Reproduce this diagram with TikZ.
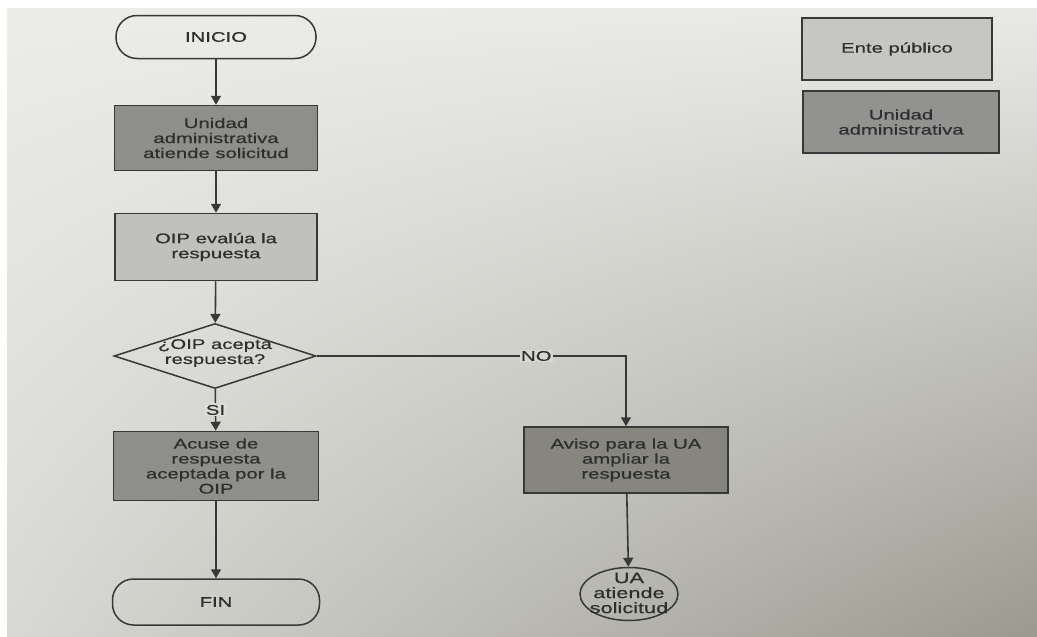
\documentclass[tikz,border=0pt]{standalone}
\usepackage{fontspec}
\setmainfont{Liberation Sans}[FakeStretch=1.45,FakeBold=0.6]
\usetikzlibrary{shapes.geometric,arrows.meta,shadings}
\definecolor{txt}{HTML}{2E2E2E}
\definecolor{ln}{HTML}{383838}
\definecolor{lightbox}{HTML}{C0C0BC}
\definecolor{darkbox}{HTML}{8E8E8A}
\definecolor{darkboxb}{HTML}{86867F}
\definecolor{leglight}{HTML}{C6C6C2}
\definecolor{legdark}{HTML}{929290}
\definecolor{bgsi}{HTML}{DCDCD8}
\definecolor{bgno}{HTML}{D8D8D3}
\definecolor{bgul}{HTML}{ECECE9}
\definecolor{bgur}{HTML}{E9E9E6}
\definecolor{bgll}{HTML}{D8D8D4}
\definecolor{bglr}{HTML}{9A9A90}
\tikzset{
  base/.style={draw=ln, line width=1.5pt, text=txt, align=center, inner sep=0pt,
    font=\fontsize{14}{15}\selectfont},
  term/.style={base, rectangle, rounded corners=21pt},
  procbox/.style={base, rectangle},
  conn/.style={draw=ln, line width=1.6pt, -{Triangle[width=10pt,length=9pt]}},
  lbl/.style={fill=#1, text=txt, inner sep=1.5pt, font=\fontsize{14}{15}\selectfont}
}
\begin{document}
\begin{tikzpicture}[x=1pt,y=-1pt]
\useasboundingbox (0,0) rectangle (1037,637);
\fill[white] (0,0) rectangle (1037,637);
\shade[upper left=bgul, upper right=bgur, lower left=bgll, lower right=bglr]
  (7,8) rectangle (1037,636);

% nodes
\node[term, minimum width=200pt, minimum height=43pt] (inicio) at (216,37) {INICIO};
\node[procbox, fill=darkbox, minimum width=203pt, minimum height=65pt] (b1) at (216,138)
  {Unidad\\administrativa\\atiende solicitud};
\node[procbox, fill=lightbox, minimum width=202pt, minimum height=67pt] (b2) at (216,247)
  {OIP evalúa la\\respuesta};
\node[base, diamond, minimum width=202pt, minimum height=65pt, aspect=3.1] (d) at (215,356) {};
\node[text=txt, align=center, inner sep=0pt, font=\fontsize{14}{15}\selectfont] (dtext) at (215,353)
  {¿OIP acepta\\respuesta?};
\node[procbox, fill=darkbox, minimum width=205pt, minimum height=69pt] (b3) at (216,466)
  {Acuse de\\respuesta\\aceptada por la\\OIP};
\node[term, minimum width=207pt, minimum height=46pt] (fin) at (216,602) {FIN};
\node[procbox, fill=darkboxb, minimum width=204pt, minimum height=66pt] (b4) at (626,460)
  {Aviso para la UA\\ampliar la\\respuesta};
\node[base, ellipse, minimum width=98pt, minimum height=53pt] (c) at (629,594) {};
\node[text=txt, align=center, inner sep=0pt, font=\fontsize{15}{15}\selectfont] (ctext) at (629,593)
  {UA\\atiende\\solicitud};

% legend
\node[procbox, fill=leglight, minimum width=190pt, minimum height=62pt] (l1) at (897,49) {Ente público};
\node[procbox, fill=legdark, minimum width=196pt, minimum height=62pt] (l2) at (901,122)
  {Unidad\\administrativa};

% connectors
\draw[conn] (inicio) -- (b1);
\draw[conn] (b1) -- (b2);
\draw[conn] (b2) -- (d);
\draw[conn] (d) -- node[lbl=bgsi, pos=0.5] (si) {SI} (b3);
\draw[conn] (b3) -- (fin);
\draw[conn] (d.east) -| node[lbl=bgno, pos=0.355] (no) {NO} (b4.north);
\draw[conn] (b4) -- (c);
\end{tikzpicture}
\end{document}
